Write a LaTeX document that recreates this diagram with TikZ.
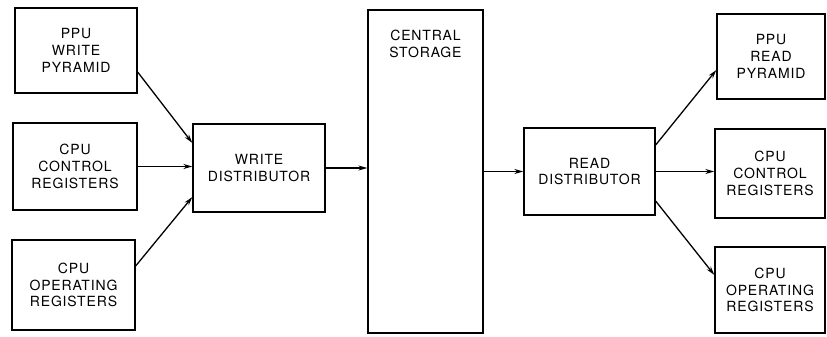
\documentclass[tikz,border=0pt]{standalone}
\usepackage{fontspec}
\newfontfamily\boxfont{TeX Gyre Heros}[LetterSpace=6]
\usepackage{tikz}
\usetikzlibrary{arrows.meta,positioning}

\begin{document}
\begin{tikzpicture}[
  x=1pt,y=-1pt,
  unit/.style={draw,line width=1.3pt,align=center,inner sep=2pt,
    font=\boxfont\fontsize{14}{16.8}\selectfont},
  flow/.style={-{Stealth[length=9pt,width=5pt]},line width=1.3pt}
]
\useasboundingbox (0,0) rectangle (827,337);

% writers
\node[unit,minimum width=122pt,minimum height=85pt] (ppuw)  at (76,50.5)  {PPU\\WRITE\\PYRAMID};
\node[unit,minimum width=124pt,minimum height=87pt] (cpucw) at (75,166.5) {CPU\\CONTROL\\REGISTERS};
\node[unit,minimum width=123pt,minimum height=90pt] (cpuow) at (73.5,285) {CPU\\OPERATING\\REGISTERS};

\node[unit,minimum width=132pt,minimum height=88pt] (wdist) at (259,168) {WRITE\\DISTRIBUTOR};

\node[unit,minimum width=115pt,minimum height=323pt,
  label={[font=\boxfont\fontsize{14}{16.8}\selectfont,align=center,anchor=north,yshift=-17pt]north:{CENTRAL\\STORAGE}}]
  (store) at (425.5,171.5) {};

\node[unit,minimum width=131pt,minimum height=87pt] (rdist) at (589.5,171.5) {READ\\DISTRIBUTOR};

% readers
\node[unit,minimum width=108pt,minimum height=85pt] (ppur)  at (771,56.5)  {PPU\\READ\\PYRAMID};
\node[unit,minimum width=110pt,minimum height=89pt] (cpucr) at (770,173.5) {CPU\\CONTROL\\REGISTERS};
\node[unit,minimum width=110pt,minimum height=86pt] (cpuor) at (770,290)   {CPU\\OPERATING\\REGISTERS};

\draw[flow] ([yshift=-21.5pt]ppuw.east) -- ([yshift=25pt]wdist.west);
\draw[flow] (cpucw.east) -- (cpucw.east -| wdist.west);
\draw[flow] ([yshift=19pt]cpuow.east) -- ([yshift=-29pt]wdist.west);
\draw[flow] (wdist.east) -- (wdist.east -| store.west);
\draw[flow] (store.east |- rdist.west) -- (rdist.west);
\draw[flow] ([yshift=26.5pt]rdist.east) -- ([yshift=-13.5pt]ppur.west);
\draw[flow] (rdist.east) -- (rdist.east -| cpucr.west);
\draw[flow] ([yshift=-29.5pt]rdist.east) -- ([yshift=15pt]cpuor.west);
\end{tikzpicture}
\end{document}
